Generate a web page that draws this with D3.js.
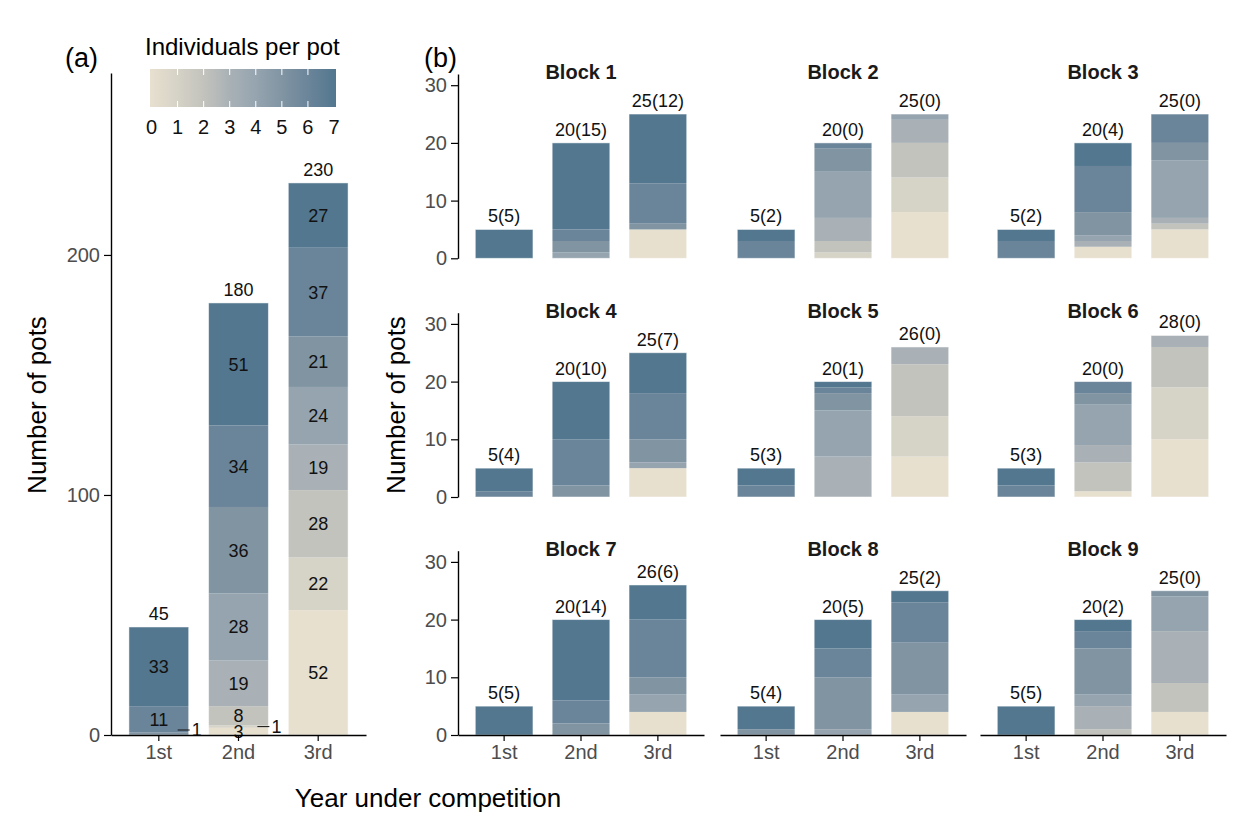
<!DOCTYPE html>
<html>
<head>
<meta charset="utf-8">
<script src="https://cdn.jsdelivr.net/npm/d3@7"></script>
<style>
  body { margin: 0; background: #fff; }
  text { font-family: "Liberation Sans", Arial, Helvetica, sans-serif; }
</style>
</head>
<body>
<svg id="chart" width="1244" height="814"></svg>
<script>
// ---- data -------------------------------------------------------------
const years = ["1st", "2nd", "3rd"];
const densityLevels = [0, 1, 2, 3, 4, 5, 6, 7];
const densityColours = ["#E8E0CF", "#D6D3C7", "#C3C3BD", "#A9B1B6",
                        "#95A4AF", "#8094A2", "#6A8499", "#52778F"];

// pooled over all blocks: number of pots per density class (0..7 individuals)
const allYear1 = [0, 0, 0, 0, 0, 1, 11, 33];
const allYear2 = [3, 1, 8, 19, 28, 36, 34, 51];
const allYear3 = [52, 22, 28, 19, 24, 21, 37, 27];

// per block, one array per year, pots per density class 0..7
const blockNames = ["Block 1", "Block 2", "Block 3", "Block 4", "Block 5",
                    "Block 6", "Block 7", "Block 8", "Block 9"];
const block1 = [[0,0,0,0,0,0,0,5], [0,0,0,0,1,2,2,15], [5,0,0,0,0,1,7,12]];
const block2 = [[0,0,0,0,0,0,3,2], [0,1,2,4,8,4,1,0], [8,6,6,4,1,0,0,0]];
const block3 = [[0,0,0,0,0,0,3,2], [2,0,0,1,1,4,8,4], [5,0,1,1,10,3,5,0]];
const block4 = [[0,0,0,0,0,0,1,4], [0,0,0,0,0,2,8,10], [5,0,0,0,1,4,8,7]];
const block5 = [[0,0,0,0,0,0,2,3], [0,0,0,7,8,3,1,1], [7,7,9,3,0,0,0,0]];
const block6 = [[0,0,0,0,0,0,2,3], [1,0,5,3,7,2,2,0], [10,9,7,2,0,0,0,0]];
const block7 = [[0,0,0,0,0,0,0,5], [0,0,0,0,0,2,4,14], [4,0,0,0,3,3,10,6]];
const block8 = [[0,0,0,0,0,1,0,4], [0,0,0,0,1,9,5,5], [4,0,0,0,3,9,7,2]];
const block9 = [[0,0,0,0,0,0,0,5], [0,0,1,4,2,8,3,2], [4,0,5,9,6,1,0,0]];

const potTicksAll = [0, 100, 200];
const potTicksBlock = [0, 10, 20, 30];

// ---- helpers ----------------------------------------------------------
const svg = d3.select("#chart");
const colour = d3.scaleOrdinal().domain(densityLevels).range(densityColours);
const TICK_GREY = "#4D4D4D";
const TICK_SIZE = 20, LABEL_SIZE = 18, TITLE_SIZE = 26;

// stacked segments (density 0 at the bottom) for one year's counts
function stackSegments(counts) {
  let base = 0;
  const segs = [];
  counts.forEach((n, d) => {
    if (n > 0) segs.push({ density: d, n, y0: base, y1: base + n });
    base += n;
  });
  return { segs, total: base };
}

function bandScale(x0, x1) {
  return d3.scaleBand().domain(years).range([x0, x1])
    .paddingInner(0.25).paddingOuter(0.225);
}

function drawStacks(g, x, y, yearCounts, opts) {
  yearCounts.forEach((counts, i) => {
    const yr = years[i];
    const { segs, total } = stackSegments(counts);
    const bar = g.append("g");
    bar.selectAll("rect.seg").data(segs).join("rect")
      .attr("class", "seg")
      .attr("x", x(yr)).attr("width", x.bandwidth())
      .attr("y", d => y(d.y1)).attr("height", d => y(d.y0) - y(d.y1))
      .attr("fill", d => colour(d.density));
    bar.append("rect")
      .attr("x", x(yr)).attr("width", x.bandwidth())
      .attr("y", y(total)).attr("height", y(0) - y(total))
      .attr("fill", "none").attr("stroke", "#ffffff")
      .attr("stroke-opacity", 0.55).attr("stroke-width", 0.9);
    bar.append("text")
      .attr("x", x(yr) + x.bandwidth() / 2).attr("y", y(total) - 7)
      .attr("text-anchor", "middle").attr("font-size", LABEL_SIZE)
      .attr("fill", "#111")
      .text(opts.topLabel(counts, total));
    if (opts.segmentLabels) {
      segs.forEach(s => {
        const cy = (y(s.y0) + y(s.y1)) / 2;
        if (s.n === 1) {
          // single pot: label pulled out to the right of the bar
          const xr = x(yr) + x.bandwidth();
          const ly = Math.min(cy, y(0) - 5);
          bar.append("line")
            .attr("x1", xr - 11).attr("x2", xr + 1)
            .attr("y1", ly).attr("y2", ly)
            .attr("stroke", "#111").attr("stroke-width", 1);
          bar.append("text")
            .attr("x", xr + 3).attr("y", ly).attr("dy", "0.36em")
            .attr("font-size", LABEL_SIZE).attr("fill", "#111").text(s.n);
        } else {
          bar.append("text")
            .attr("x", x(yr) + x.bandwidth() / 2).attr("y", cy)
            .attr("dy", "0.36em").attr("text-anchor", "middle")
            .attr("font-size", LABEL_SIZE).attr("fill", "#111").text(s.n);
        }
      });
    }
  });
}

function styleAxis(sel) {
  sel.select(".domain").attr("stroke", "#000").attr("stroke-width", 1.4);
  sel.selectAll(".tick line").attr("stroke", "#000").attr("stroke-width", 1.2);
  sel.selectAll(".tick text").attr("fill", TICK_GREY).attr("font-size", TICK_SIZE)
    .attr("font-family", "Liberation Sans, Arial, sans-serif");
}

// ---- panel (a): all blocks pooled -------------------------------------
const aLeft = 111, aRight = 366, aTop = 73, aBottom = 735;
const xA = bandScale(aLeft, aRight);
const yA = d3.scaleLinear().domain([0, 275.8]).range([aBottom, aTop]);
const gA = svg.append("g");

drawStacks(gA, xA, yA, [allYear1, allYear2, allYear3], {
  topLabel: (c, t) => t,
  segmentLabels: true
});

gA.append("g").attr("transform", `translate(${aLeft},0)`)
  .call(d3.axisLeft(yA).tickValues(potTicksAll).tickSize(7).tickSizeOuter(0).tickPadding(4))
  .call(styleAxis);
gA.append("g").attr("transform", `translate(0,${aBottom})`)
  .call(d3.axisBottom(xA).tickSize(6).tickSizeOuter(0).tickPadding(4))
  .call(styleAxis);

svg.append("text").attr("x", 65).attr("y", 67).attr("font-size", 27).text("(a)");
svg.append("text")
  .attr("transform", "translate(46,405) rotate(-90)")
  .attr("text-anchor", "middle").attr("font-size", TITLE_SIZE).text("Number of pots");

// colour legend
const legX0 = 150, legX1 = 336, legY = 69, legH = 38;
const legScale = d3.scaleLinear().domain([0, 7]).range([151.5, 334]);
const grad = svg.append("defs").append("linearGradient").attr("id", "densityGrad");
densityColours.forEach((c, i) => {
  grad.append("stop").attr("offset", `${(i / 7) * 100}%`).attr("stop-color", c);
});
svg.append("text").attr("x", 145).attr("y", 55).attr("font-size", 24)
  .text("Individuals per pot");
svg.append("rect").attr("x", legX0).attr("y", legY)
  .attr("width", legX1 - legX0).attr("height", legH).attr("fill", "url(#densityGrad)");
const legTicks = densityLevels.slice(1, 7);
svg.selectAll("line.legTop").data(legTicks).join("line")
  .attr("x1", d => legScale(d)).attr("x2", d => legScale(d))
  .attr("y1", legY).attr("y2", legY + 6).attr("stroke", "#fff").attr("stroke-width", 1);
svg.selectAll("line.legBot").data(legTicks).join("line")
  .attr("x1", d => legScale(d)).attr("x2", d => legScale(d))
  .attr("y1", legY + legH - 6).attr("y2", legY + legH).attr("stroke", "#fff").attr("stroke-width", 1);
svg.selectAll("text.legLab").data(densityLevels).join("text")
  .attr("x", d => legScale(d)).attr("y", 134).attr("text-anchor", "middle")
  .attr("font-size", 20).attr("fill", "#111").text(d => d);

// ---- panel (b): one facet per block -----------------------------------
const blocks = [block1, block2, block3, block4, block5, block6, block7, block8, block9];
const colLefts = [458, 720, 980], colWidth = 246;
const rowTops = [74, 312.7, 550.7], rowHeight = 184.3;

blocks.forEach((blk, k) => {
  const col = k % 3, row = Math.floor(k / 3);
  const x0 = colLefts[col], x1 = x0 + colWidth;
  const top = rowTops[row], bottom = top + rowHeight;
  const x = bandScale(x0, x1);
  const y = d3.scaleLinear().domain([0, 31.94]).range([bottom, top]);
  const g = svg.append("g");

  drawStacks(g, x, y, blk, {
    topLabel: (c, t) => `${t}(${c[7]})`,
    segmentLabels: false
  });

  g.append("text").attr("x", (x0 + x1) / 2).attr("y", top + 5)
    .attr("text-anchor", "middle").attr("font-size", 20).attr("font-weight", "bold")
    .attr("fill", "#1a1a1a").text(blockNames[k]);

  if (col === 0) {
    g.append("g").attr("transform", `translate(${x0},0)`)
      .call(d3.axisLeft(y).tickValues(potTicksBlock).tickSize(7).tickSizeOuter(0).tickPadding(4))
      .call(styleAxis);
  }
  if (row === 2) {
    g.append("g").attr("transform", `translate(0,${bottom})`)
      .call(d3.axisBottom(x).tickSize(6).tickSizeOuter(0).tickPadding(4))
      .call(styleAxis);
  }
});

svg.append("text").attr("x", 424).attr("y", 67).attr("font-size", 27).text("(b)");
svg.append("text")
  .attr("transform", "translate(405,405) rotate(-90)")
  .attr("text-anchor", "middle").attr("font-size", TITLE_SIZE).text("Number of pots");

svg.append("text").attr("x", 428).attr("y", 807).attr("text-anchor", "middle")
  .attr("font-size", TITLE_SIZE).text("Year under competition");
</script>
</body>
</html>
